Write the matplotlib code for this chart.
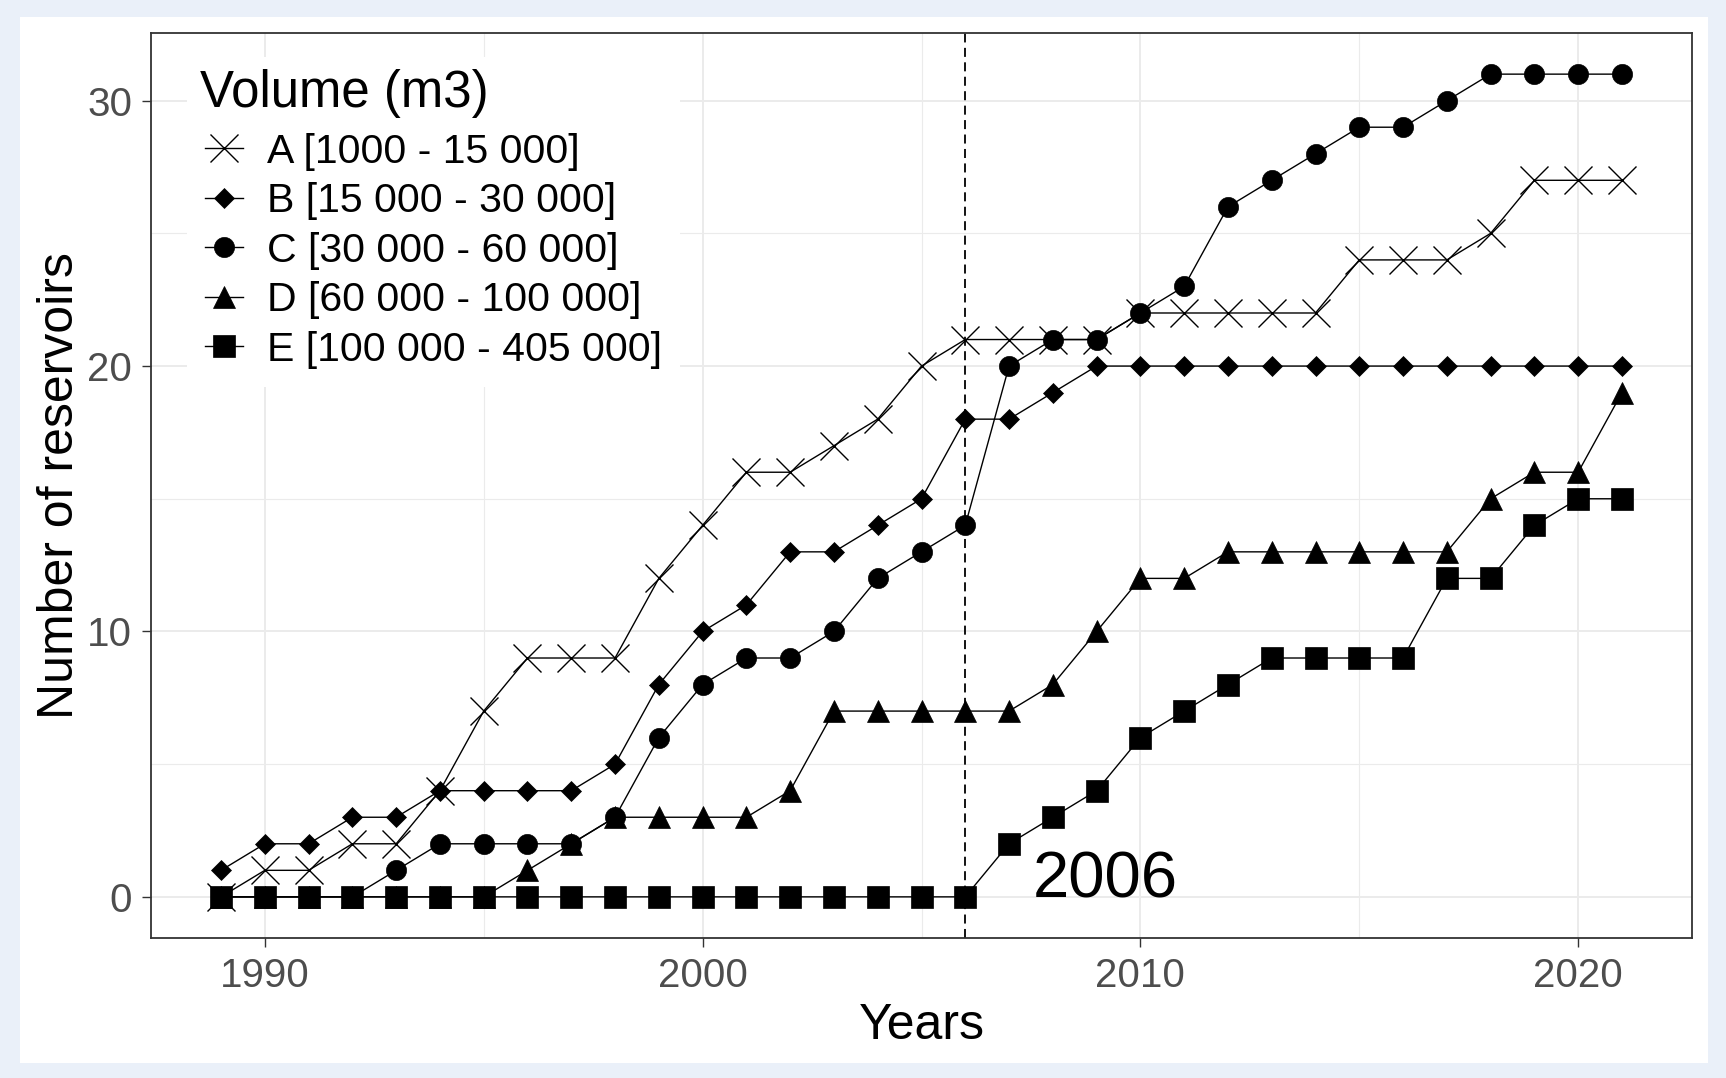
import matplotlib
matplotlib.use("Agg")
import matplotlib.pyplot as plt
from matplotlib.patches import Rectangle

plt.rcParams['font.family'] = ['Liberation Sans', 'DejaVu Sans']

years = list(range(1989, 2022))
vol_a = [0, 1, 1, 2, 2, 4, 7, 9, 9, 9, 12, 14, 16, 16, 17, 18, 20, 21, 21, 21, 21,
         22, 22, 22, 22, 22, 24, 24, 24, 25, 27, 27, 27]
vol_b = [1, 2, 2, 3, 3, 4, 4, 4, 4, 5, 8, 10, 11, 13, 13, 14, 15, 18, 18, 19, 20,
         20, 20, 20, 20, 20, 20, 20, 20, 20, 20, 20, 20]
vol_c = [0, 0, 0, 0, 1, 2, 2, 2, 2, 3, 6, 8, 9, 9, 10, 12, 13, 14, 20, 21, 21,
         22, 23, 26, 27, 28, 29, 29, 30, 31, 31, 31, 31]
vol_d = [0, 0, 0, 0, 0, 0, 0, 1, 2, 3, 3, 3, 3, 4, 7, 7, 7, 7, 7, 8, 10,
         12, 12, 13, 13, 13, 13, 13, 13, 15, 16, 16, 19]
vol_e = [0, 0, 0, 0, 0, 0, 0, 0, 0, 0, 0, 0, 0, 0, 0, 0, 0, 0, 2, 3, 4,
         6, 7, 8, 9, 9, 9, 9, 12, 12, 14, 15, 15]

labels = ["A [1000 - 15 000]", "B [15 000 - 30 000]", "C [30 000 - 60 000]",
          "D [60 000 - 100 000]", "E [100 000 - 405 000]"]
series = [vol_a, vol_b, vol_c, vol_d, vol_e]
markers = ["x", "D", "o", "^", "s"]
msizes = [19.5, 10.5, 14.5, 16, 15.5]

fig = plt.figure(figsize=(17.26, 10.78), dpi=100)
fig.patch.set_facecolor("#eaf0f9")
fig.patches.append(Rectangle((20 / 1726, 1 - 1063 / 1078), 1688 / 1726, 1046 / 1078,
                             transform=fig.transFigure, facecolor="white",
                             edgecolor="none", zorder=-10))
ax = fig.add_axes([151 / 1726, 1 - 938 / 1078, 1541 / 1726, 905 / 1078])

for vals, lab, m, ms in zip(series, labels, markers, msizes):
    ax.plot(years, vals, color="black", linewidth=1.0, marker=m, markersize=ms,
            markeredgewidth=1.0 if m == "x" else 0.5, label=lab, zorder=3)

ax.axvline(2006, color="black", linestyle=(0, (5, 3)), linewidth=1.3, zorder=2)
ax.text(2009.2, 0.6, "2006", fontsize=47, ha="center", va="center", color="black")

ax.set_xlim(1987.4, 2022.6)
ax.set_ylim(-1.55, 32.55)
ax.set_xticks([1990, 2000, 2010, 2020])
ax.set_yticks([0, 10, 20, 30])
ax.set_xticks([1995, 2005, 2015], minor=True)
ax.set_yticks([5, 15, 25], minor=True)
ax.grid(which="major", color="#ebebeb", linewidth=1.4)
ax.grid(which="minor", color="#ebebeb", linewidth=0.8)
ax.set_axisbelow(True)
ax.tick_params(which="major", length=6.5, width=1.0, color="#333333",
               labelsize=29, labelcolor="#4d4d4d", pad=7)
ax.tick_params(which="minor", length=0)
for s in ax.spines.values():
    s.set_color("#333333")
    s.set_linewidth(1.3)

ax.set_xlabel("Years", fontsize=36)
ax.set_ylabel("Number of reservoirs", fontsize=36)
ax.xaxis.set_label_coords(0.5, -0.072)
ax.yaxis.set_label_coords(-0.044, 0.5)

leg = ax.legend(loc="upper left", bbox_to_anchor=(0.0235, 0.974), fontsize=29.5,
                title="Volume (m3)", title_fontsize=36.7, alignment="left",
                frameon=True, facecolor="white", edgecolor="none", framealpha=1,
                fancybox=False, handlelength=0.93, handletextpad=0.58,
                labelspacing=0.28, borderpad=0.3, borderaxespad=0)
leg.set_zorder(5)
# push the keys right of the title and set the gap below the title
leg._legend_handle_box.pad = 4
leg._legend_box.sep = 0.28 * 29.5 - 1.5

plt.savefig("out.png", dpi=100, facecolor=fig.get_facecolor())
